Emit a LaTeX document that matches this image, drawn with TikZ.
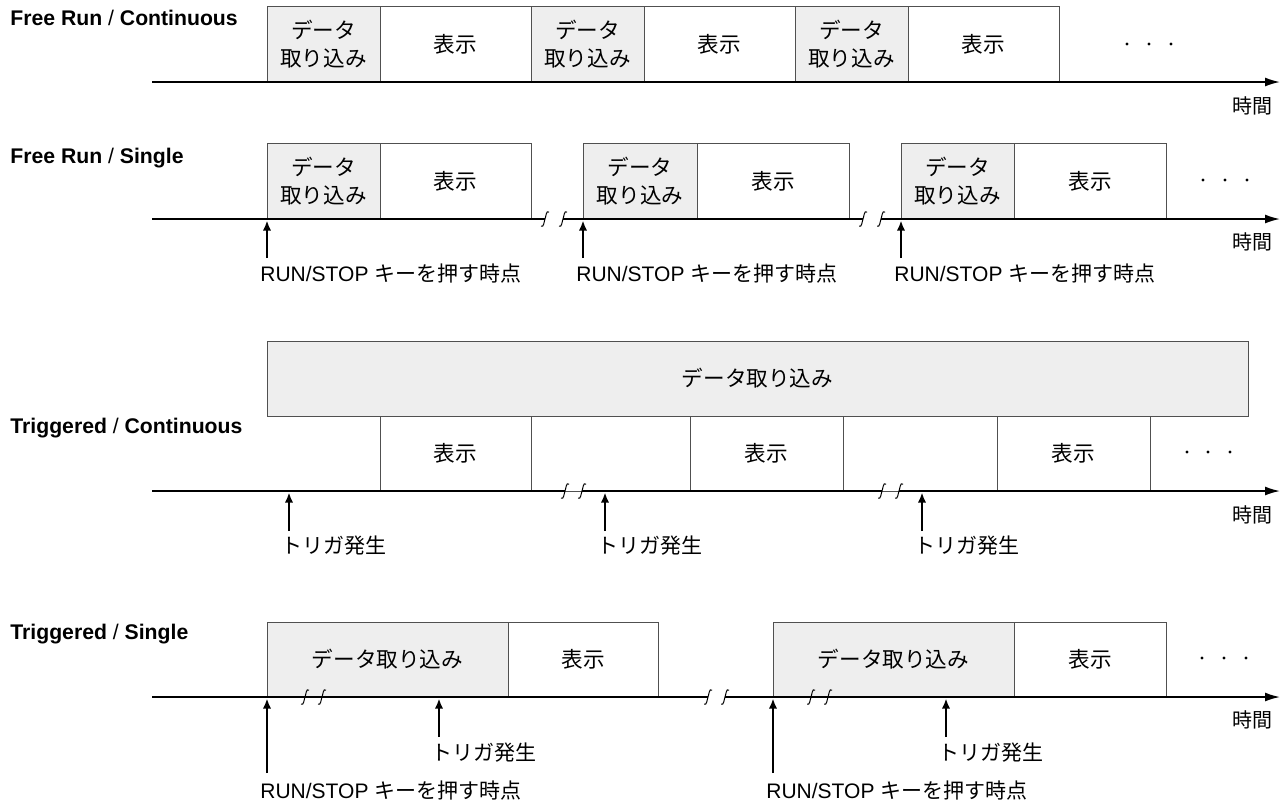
\documentclass[tikz,border=0pt]{standalone}
\usepackage{fontspec}
\setmainfont{Liberation Sans}
\newfontfamily\jp{Noto Sans CJK JP}
\usetikzlibrary{arrows.meta,fit}
\definecolor{grayf}{HTML}{EEEEEE}
\definecolor{boxc}{HTML}{505050}
\newcommand\brkmark[2]{\draw[brkline,shift={(#1,#2)}] (-4,7) .. controls (-1,9) and (-1,2) .. (0,0) .. controls (1,-2) and (1,-9) .. (4,-7);}
\newcommand\dotsrow[4]{\fill (#1,#4) circle (1.6); \fill (#2,#4) circle (1.6); \fill (#3,#4) circle (1.6);}
\begin{document}
\begin{tikzpicture}[x=0.5pt,y=-0.5pt,
  hdr/.style={anchor=base west,inner sep=0pt,font=\fontsize{10.6}{12}\selectfont},
  boxbase/.style={draw=boxc,line width=0.5pt,inner sep=0pt},
  gbox/.style={boxbase,fill=grayf},
  wbox/.style={boxbase,fill=white},
  boxtxt/.style={inner sep=0pt,align=center,font=\jp\fontsize{10.8}{14}\selectfont},
  axisline/.style={line width=0.85pt,-{Latex[length=7.5pt,width=4.5pt]}},
  axisseg/.style={line width=0.85pt},
  uparrow/.style={line width=1.2pt,-{Latex[length=5pt,width=4.2pt]}},
  lbl/.style={anchor=west,inner sep=0pt,font=\fontsize{10.5}{12}\selectfont},
  timelbl/.style={anchor=east,inner sep=0pt,font=\jp\fontsize{10}{12}\selectfont},
  brkline/.style={line width=0.5pt}]
\useasboundingbox (0,0) rectangle (1284,805);

% ---------- Row 1: Free Run / Continuous
\node[hdr] (h1) at (10,25) {\textbf{Free Run} / \textbf{Continuous}};
\node[gbox,fit={(267,6)(380,82)}] (a1) {};
\node[wbox,fit={(380,6)(531,82)}] (a2) {};
\node[gbox,fit={(531,6)(644,82)}] (a3) {};
\node[wbox,fit={(644,6)(795,82)}] (a4) {};
\node[gbox,fit={(795,6)(908,82)}] (a5) {};
\node[wbox,fit={(908,6)(1059,82)}] (a6) {};
\node[boxtxt] (a1t) at (a1.center) {データ\\取り込み};
\node[boxtxt] (a2t) at (a2.center) {表示};
\node[boxtxt] (a3t) at (a3.center) {データ\\取り込み};
\node[boxtxt] (a4t) at (a4.center) {表示};
\node[boxtxt] (a5t) at (a5.center) {データ\\取り込み};
\node[boxtxt] (a6t) at (a6.center) {表示};
\dotsrow{1127}{1149}{1171}{44}
\coordinate (ax1s) at (152,82);
\coordinate (ax1e) at (1280,82);
\draw[axisline] (ax1s) -- (ax1e);
\node[timelbl] (t1) at (1273,106) {時間};

% ---------- Row 2: Free Run / Single
\node[hdr] (h2) at (10,163) {\textbf{Free Run} / \textbf{Single}};
\node[gbox,fit={(267,143)(380,219)}] (b1) {};
\node[wbox,fit={(380,143)(531,219)}] (b2) {};
\node[gbox,fit={(583,143)(697,219)}] (b3) {};
\node[wbox,fit={(697,143)(849,219)}] (b4) {};
\node[gbox,fit={(901,143)(1014,219)}] (b5) {};
\node[wbox,fit={(1014,143)(1166,219)}] (b6) {};
\node[boxtxt] (b1t) at (b1.center) {データ\\取り込み};
\node[boxtxt] (b2t) at (b2.center) {表示};
\node[boxtxt] (b3t) at (b3.center) {データ\\取り込み};
\node[boxtxt] (b4t) at (b4.center) {表示};
\node[boxtxt] (b5t) at (b5.center) {データ\\取り込み};
\node[boxtxt] (b6t) at (b6.center) {表示};
\dotsrow{1203}{1225}{1247}{180}
\coordinate (ax2a) at (152,219);
\coordinate (ax2b) at (545,219);
\coordinate (ax2c) at (563,219);
\coordinate (ax2d) at (863,219);
\coordinate (ax2e) at (881,219);
\coordinate (ax2f) at (1280,219);
\draw[axisseg] (ax2a) -- (ax2b);
\draw[axisseg] (ax2c) -- (ax2d);
\draw[axisline] (ax2e) -- (ax2f);
\brkmark{545}{219}\brkmark{563}{219}
\brkmark{863}{219}\brkmark{881}{219}
\node[timelbl] (t2) at (1273,242) {時間};
\coordinate (p2a) at (267,258); \coordinate (q2a) at (267,220.5);
\coordinate (p2b) at (583,258); \coordinate (q2b) at (583,220.5);
\coordinate (p2c) at (901,258); \coordinate (q2c) at (901,220.5);
\draw[uparrow] (p2a) -- (q2a);
\draw[uparrow] (p2b) -- (q2b);
\draw[uparrow] (p2c) -- (q2c);
\node[lbl] (l2a) at (260,273) {RUN/STOP {\jp キーを押す時点}};
\node[lbl] (l2b) at (576,273) {RUN/STOP {\jp キーを押す時点}};
\node[lbl] (l2c) at (894,273) {RUN/STOP {\jp キーを押す時点}};

% ---------- Row 3: Triggered / Continuous
\node[hdr] (h3) at (10,433) {\textbf{Triggered} / \textbf{Continuous}};
\node[gbox,fit={(267,341)(1248,416)}] (c0) {};
\node[wbox,fit={(380,416)(531,491)}] (c1) {};
\node[wbox,fit={(531,416)(690,491)}] (c2) {};
\node[wbox,fit={(690,416)(843,491)}] (c3) {};
\node[wbox,fit={(843,416)(997,491)}] (c4) {};
\node[wbox,fit={(997,416)(1150,491)}] (c5) {};
\node[boxtxt] (c0t) at (c0.center) {データ取り込み};
\node[boxtxt] (c1t) at (c1.center) {表示};
\node[boxtxt] (c3t) at (c3.center) {表示};
\node[boxtxt] (c5t) at (c5.center) {表示};
\dotsrow{1187}{1208}{1230}{452}
\coordinate (ax3a) at (152,491);
\coordinate (ax3b) at (565,491);
\coordinate (ax3c) at (582,491);
\coordinate (ax3d) at (882,491);
\coordinate (ax3e) at (899,491);
\coordinate (ax3f) at (1280,491);
\draw[axisseg] (ax3a) -- (ax3b);
\draw[axisseg] (ax3c) -- (ax3d);
\draw[axisline] (ax3e) -- (ax3f);
\brkmark{565}{491}\brkmark{582}{491}
\brkmark{882}{491}\brkmark{899}{491}
\node[timelbl] (t3) at (1273,515) {時間};
\coordinate (p3a) at (289,531); \coordinate (q3a) at (289,492.5);
\coordinate (p3b) at (605,531); \coordinate (q3b) at (605,492.5);
\coordinate (p3c) at (922,531); \coordinate (q3c) at (922,492.5);
\draw[uparrow] (p3a) -- (q3a);
\draw[uparrow] (p3b) -- (q3b);
\draw[uparrow] (p3c) -- (q3c);
\node[lbl] (l3a) at (281,546) {\jp トリガ発生};
\node[lbl] (l3b) at (597,546) {\jp トリガ発生};
\node[lbl] (l3c) at (914,546) {\jp トリガ発生};

% ---------- Row 4: Triggered / Single
\node[hdr] (h4) at (10,639) {\textbf{Triggered} / \textbf{Single}};
\node[gbox,fit={(267,622)(508,697)}] (d1) {};
\node[wbox,fit={(508,622)(658,697)}] (d2) {};
\node[gbox,fit={(773,622)(1014,697)}] (d3) {};
\node[wbox,fit={(1014,622)(1166,697)}] (d4) {};
\node[boxtxt] (d1t) at (d1.center) {データ取り込み};
\node[boxtxt] (d2t) at (d2.center) {表示};
\node[boxtxt] (d3t) at (d3.center) {データ取り込み};
\node[boxtxt] (d4t) at (d4.center) {表示};
\dotsrow{1202}{1224}{1246}{658}
\coordinate (ax4a) at (152,697);
\coordinate (ax4b) at (708,697);
\coordinate (ax4c) at (725,697);
\coordinate (ax4d) at (1280,697);
\draw[axisseg] (ax4a) -- (ax4b);
\draw[axisline] (ax4c) -- (ax4d);
\brkmark{305}{697}\brkmark{322}{697}
\brkmark{708}{697}\brkmark{725}{697}
\brkmark{811}{697}\brkmark{828}{697}
\node[timelbl] (t4) at (1273,720) {時間};
\coordinate (p4a) at (267,773); \coordinate (q4a) at (267,698.5);
\coordinate (p4b) at (439,737); \coordinate (q4b) at (439,698.5);
\coordinate (p4c) at (773,773); \coordinate (q4c) at (773,698.5);
\coordinate (p4d) at (946,737); \coordinate (q4d) at (946,698.5);
\draw[uparrow] (p4a) -- (q4a);
\draw[uparrow] (p4b) -- (q4b);
\draw[uparrow] (p4c) -- (q4c);
\draw[uparrow] (p4d) -- (q4d);
\node[lbl] (l4b) at (431,753) {\jp トリガ発生};
\node[lbl] (l4d) at (938,753) {\jp トリガ発生};
\node[lbl] (l4a) at (260,790) {RUN/STOP {\jp キーを押す時点}};
\node[lbl] (l4c) at (766,790) {RUN/STOP {\jp キーを押す時点}};
\end{tikzpicture}
\end{document}
